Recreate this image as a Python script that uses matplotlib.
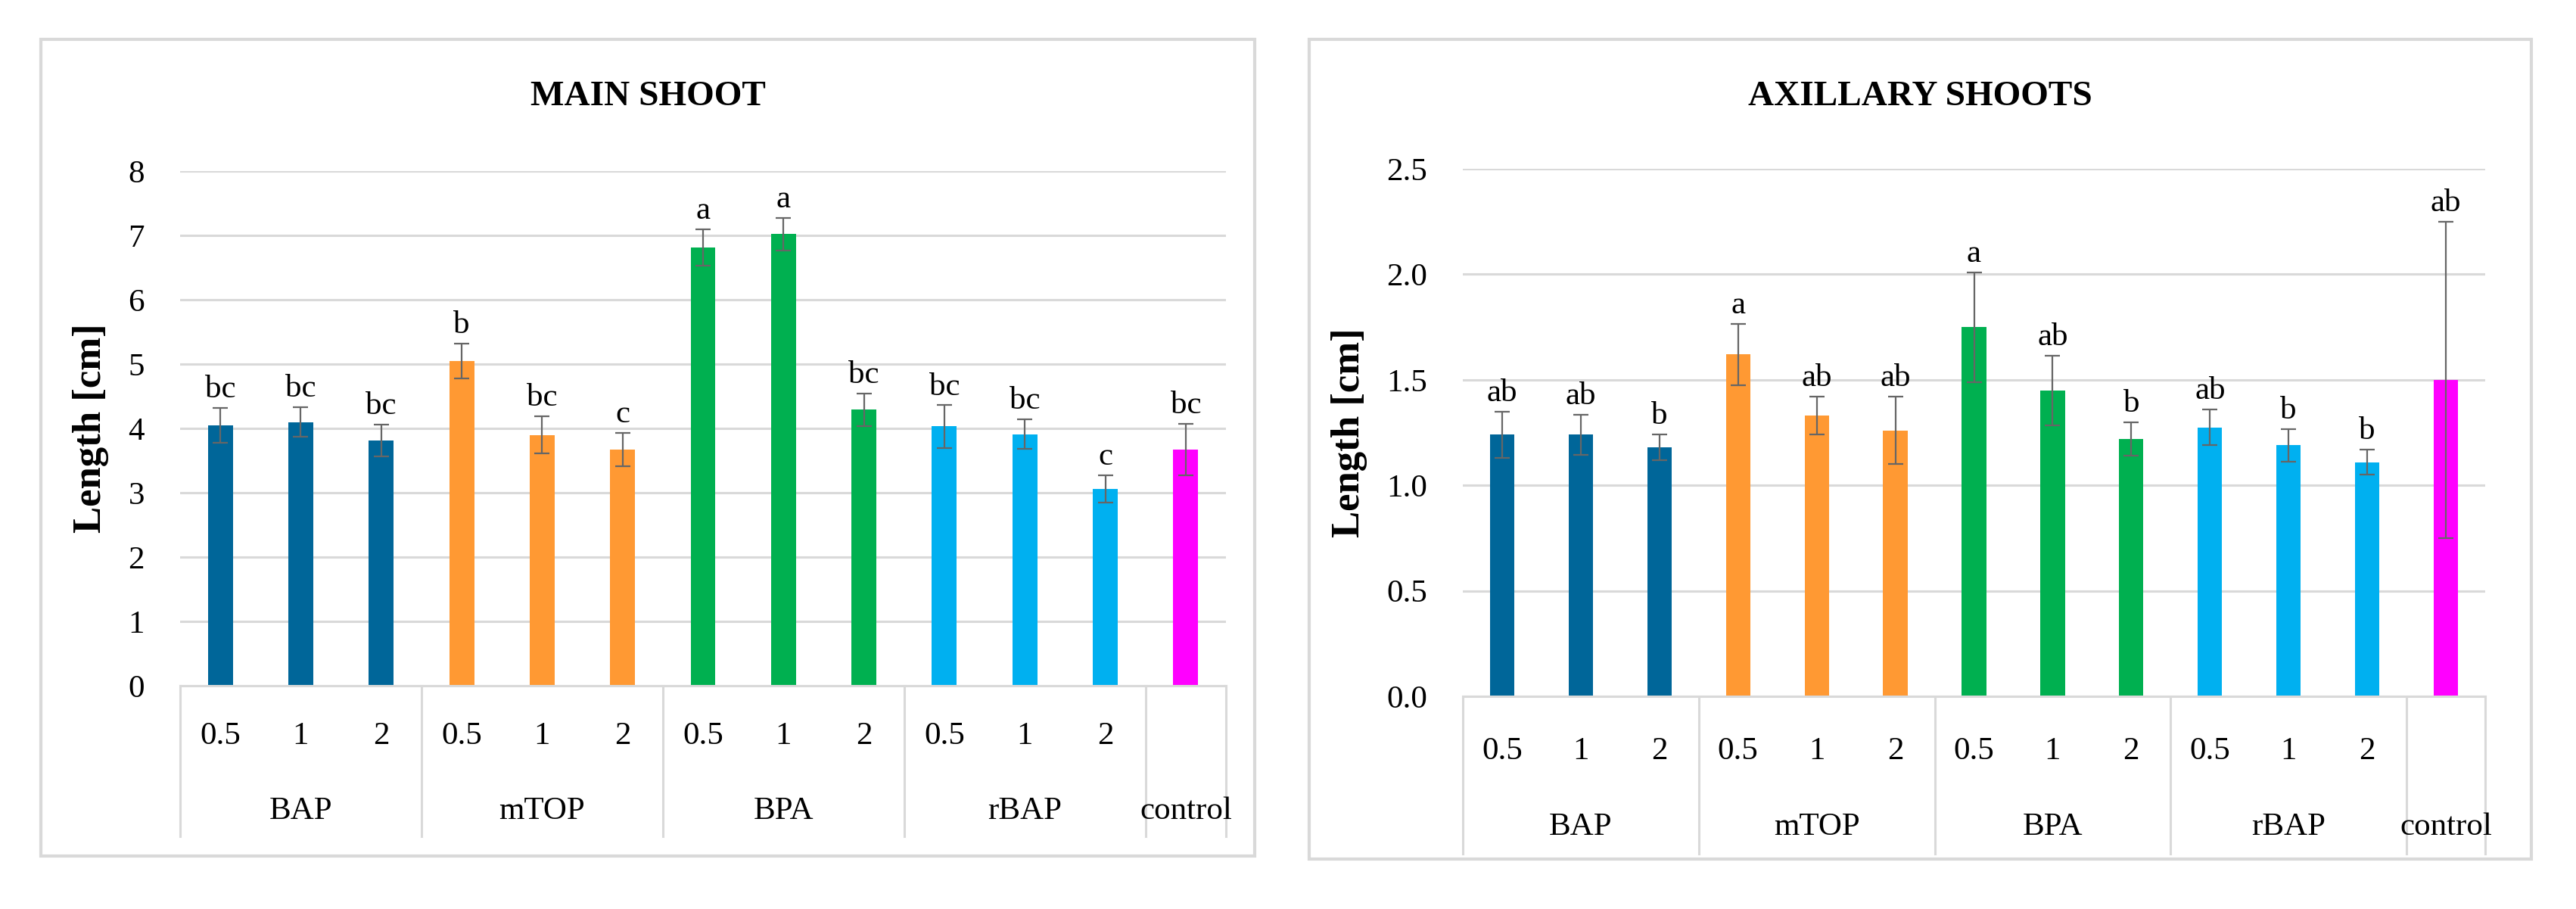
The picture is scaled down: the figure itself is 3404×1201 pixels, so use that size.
import matplotlib
matplotlib.use('Agg')
import matplotlib.pyplot as plt
from matplotlib.patches import Rectangle
import matplotlib.transforms as mtransforms
import numpy as np

plt.rcParams['font.family'] = ['Liberation Serif', 'DejaVu Serif']

# ---- data ----
groups = ['BAP', 'mTOP', 'BPA', 'rBAP', 'control']
group_sizes = [3, 3, 3, 3, 1]
doses = ['0.5', '1', '2', '0.5', '1', '2', '0.5', '1', '2', '0.5', '1', '2', '']
group_colors = ['#006699', '#FF9933', '#00B050', '#00B0F0', '#FF00FF']

main_mean = [4.05, 4.10, 3.81, 5.05, 3.90, 3.67, 6.81, 7.02, 4.29, 4.03, 3.91, 3.06, 3.67]
main_err = [0.27, 0.23, 0.25, 0.27, 0.29, 0.26, 0.28, 0.25, 0.25, 0.33, 0.23, 0.21, 0.40]
main_letters = ['bc', 'bc', 'bc', 'b', 'bc', 'c', 'a', 'a', 'bc', 'bc', 'bc', 'c', 'bc']

axil_mean = [1.24, 1.24, 1.18, 1.62, 1.33, 1.26, 1.75, 1.45, 1.22, 1.275, 1.19, 1.11, 1.50]
axil_err = [0.11, 0.095, 0.06, 0.145, 0.09, 0.16, 0.26, 0.165, 0.08, 0.085, 0.077, 0.058, 0.75]
axil_letters = ['ab', 'ab', 'b', 'a', 'ab', 'ab', 'a', 'ab', 'b', 'ab', 'b', 'b', 'ab']

W, H = 3404, 1201
GRID = '#D9D9D9'
ERRC = '#666666'

fig = plt.figure(figsize=(W / 100, H / 100), dpi=100)


def px_axes(l, t, r, b):
    return fig.add_axes([l / W, 1 - b / H, (r - l) / W, (b - t) / H])


def draw_panel(box, axbox, means, errs, letters, title, ymax, ystep, fmt,
               dose_off, group_off, sep_off):
    # outer frame of the chart
    bl, bt, br, bb = box
    fig.patches.append(Rectangle((bl / W, 1 - bb / H), (br - bl) / W, (bb - bt) / H,
                                 transform=fig.transFigure, fill=False,
                                 edgecolor=GRID, linewidth=3))
    fig.text((bl + br) / 2 / W, 1 - 128 / H, title, ha='center', va='center',
             fontsize=34, fontweight='bold')

    ax = px_axes(*axbox)
    hpx = axbox[3] - axbox[1]
    colors = []
    for c, n in zip(group_colors, group_sizes):
        colors += [c] * n
    x = np.arange(len(means))
    ax.bar(x, means, width=0.31, color=colors, zorder=2)
    ax.errorbar(x, means, yerr=errs, fmt='none', ecolor=ERRC, elinewidth=1.6,
                capsize=7.5, capthick=1.6, zorder=3)
    for xi, m, e, lab in zip(x, means, errs, letters):
        ax.annotate(lab, (xi, m + e), xytext=(0, 10), textcoords='offset points',
                    ha='center', va='baseline', fontsize=31)

    ax.set_xlim(-0.5, len(means) - 0.5)
    ax.set_ylim(0, ymax)
    ticks = np.arange(0, ymax + ystep / 2, ystep)
    ax.set_yticks(ticks)
    ax.set_yticklabels([fmt.format(t) for t in ticks], fontsize=31)
    ax.tick_params(axis='y', length=0, pad=34)
    ax.set_xticks([])
    ax.grid(axis='y', color=GRID, linewidth=2.2, zorder=0)
    ax.set_axisbelow(True)
    for s in ['top', 'right', 'left']:
        ax.spines[s].set_visible(False)
    ax.spines['bottom'].set_color(GRID)
    ax.spines['bottom'].set_linewidth(2.2)
    ax.set_ylabel('Length [cm]', fontsize=38, fontweight='bold', labelpad=18)

    # multi-level category axis
    tr = mtransforms.blended_transform_factory(ax.transData, ax.transAxes)
    for xi, d in zip(x, doses):
        ax.text(xi, -dose_off / hpx, d, transform=tr, ha='center', va='center',
                fontsize=31)
    bounds = np.concatenate([[0], np.cumsum(group_sizes)]) - 0.5
    for b in bounds:
        ax.plot([b, b], [0, -sep_off / hpx], transform=tr, color=GRID,
                linewidth=2.2, clip_on=False)
    for g, a, b in zip(groups, bounds[:-1], bounds[1:]):
        ax.text((a + b) / 2, -group_off / hpx, g, transform=tr, ha='center',
                va='center', fontsize=31)
    return ax


draw_panel((54, 52, 1658, 1131), (238, 226, 1620, 906),
           main_mean, main_err, main_letters, 'MAIN SHOOT', 8, 1, '{:.0f}',
           67, 166, 199)
draw_panel((1730, 52, 3345, 1135), (1933, 223, 3284, 920),
           axil_mean, axil_err, axil_letters, 'AXILLARY SHOOTS', 2.5, 0.5, '{:.1f}',
           73, 173, 208)

fig.savefig('out.png', dpi=100)
